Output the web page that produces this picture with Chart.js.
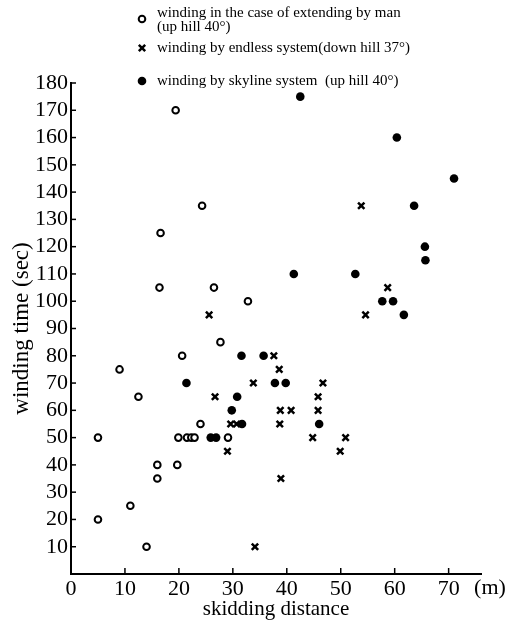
<!DOCTYPE html>
<html lang="en">
<head>
  <meta charset="UTF-8">
  <title>Winding time vs skidding distance</title>
  <script src="https://cdn.jsdelivr.net/npm/chart.js"></script>
  <style>
    body { margin: 0; padding: 0; background: #fff; }
    canvas { display: block; }
  </style>
</head>
<body>
  <canvas id="windingChart" width="508" height="622"></canvas>
  <script>
    // winding in the case of extending by man (up hill 40°) - open circles
    const manX = [5, 5, 9, 11, 12.5, 14, 16, 16, 16.4, 16.6, 19.4, 19.7, 19.9, 20.6, 21.5, 22.3, 22.9, 24, 24.3, 26.5, 27.7, 29.1, 32.8];
    const manY = [50, 20, 75, 25, 65, 10, 40, 35, 105, 125, 170, 40, 50, 80, 50, 50, 50, 55, 135, 105, 85, 50, 100];

    // winding by endless system (down hill 37°) - crosses
    const endlessX = [25.6, 26.7, 29.0, 29.6, 30.7, 33.8, 34.1, 37.6, 38.6, 38.7, 38.8, 38.9, 40.8, 44.8, 45.8, 45.8, 46.7, 49.9, 50.9, 53.8, 54.6, 58.7];
    const endlessY = [95, 65, 45, 55, 55, 70, 10, 80, 75, 55, 60, 35, 60, 50, 65, 60, 70, 45, 50, 135, 95, 105];

    // winding by skyline system (up hill 40°) - filled circles
    const skylineX = [21.4, 25.9, 26.9, 29.8, 30.8, 31.6, 31.7, 35.7, 37.8, 39.8, 41.3, 42.5, 46, 52.7, 57.7, 59.7, 60.4, 61.7, 63.6, 65.6, 65.7, 71];
    const skylineY = [70, 50, 50, 60, 65, 80, 55, 80, 70, 70, 110, 175, 55, 110, 100, 100, 160, 95, 135, 120, 115, 145];

    const xTicks = [0, 10, 20, 30, 40, 50, 60, 70];

    const legendLabels = [
      ['winding in the case of extending by man', '(up hill 40°)'],
      ['winding by endless system(down hill 37°)'],
      ['winding by skyline system  (up hill 40°)']
    ];
    const xTitle = 'skidding distance';
    const yTitle = 'winding time (sec)';
    const xUnit = '(m)';

    const toPoints = (xs, ys) => xs.map((x, i) => ({ x: x, y: ys[i] }));
    const serif = "'Liberation Serif', 'DejaVu Serif', serif";

    // small inward tick marks, the "(m)" unit and the legend at the top
    const decorations = {
      id: 'decorations',
      afterDraw(chart) {
        const ctx = chart.ctx;
        const xs = chart.scales.x;
        const ys = chart.scales.y;
        const area = chart.chartArea;
        ctx.save();
        ctx.strokeStyle = '#000';
        ctx.lineWidth = 1.5;
        xs.ticks.forEach(t => {
          if (t.value === 0) return;
          const px = xs.getPixelForValue(t.value);
          ctx.beginPath();
          ctx.moveTo(px, area.bottom);
          ctx.lineTo(px, area.bottom - 6);
          ctx.stroke();
        });
        ys.ticks.forEach(t => {
          if (t.value === 0) return;
          const py = ys.getPixelForValue(t.value);
          ctx.beginPath();
          ctx.moveTo(area.left, py);
          ctx.lineTo(area.left + 5, py);
          ctx.stroke();
        });

        ctx.fillStyle = '#000';
        ctx.font = '22px ' + serif;
        ctx.textAlign = 'center';
        ctx.textBaseline = 'top';
        ctx.fillText(xUnit, 490, area.bottom + 3);

        // legend
        const rows = [[19, 13], [48, 48], [81, 81]];
        ctx.font = '15px ' + serif;
        ctx.textAlign = 'left';
        ctx.textBaseline = 'middle';
        chart.data.datasets.forEach((ds, i) => {
          const my = rows[i][0];
          ctx.save();
          ctx.strokeStyle = '#000';
          ctx.fillStyle = ds.pointBackgroundColor;
          ctx.lineWidth = ds.pointBorderWidth;
          Chart.helpers.drawPoint(ctx, {
            pointStyle: ds.pointStyle,
            radius: ds.pointRadius,
            rotation: 0,
            borderWidth: ds.pointBorderWidth
          }, 142, my);
          ctx.restore();
          ctx.fillStyle = '#000';
          legendLabels[i].forEach((line, j) => {
            ctx.fillText(line, 157, rows[i][1] + j * 14);
          });
        });
        ctx.restore();
      }
    };

    const ctx = document.getElementById('windingChart').getContext('2d');
    new Chart(ctx, {
      type: 'scatter',
      data: {
        datasets: [
          {
            label: legendLabels[0].join(' '),
            data: toPoints(manX, manY),
            pointStyle: 'circle',
            pointRadius: 3.3,
            pointBorderWidth: 2,
            pointBorderColor: '#000',
            pointBackgroundColor: '#fff'
          },
          {
            label: legendLabels[1].join(' '),
            data: toPoints(endlessX, endlessY),
            pointStyle: 'crossRot',
            pointRadius: 4.5,
            pointBorderWidth: 2.5,
            pointBorderColor: '#000',
            pointBackgroundColor: '#000'
          },
          {
            label: legendLabels[2].join(' '),
            data: toPoints(skylineX, skylineY),
            pointStyle: 'circle',
            pointRadius: 4.3,
            pointBorderWidth: 0,
            pointBorderColor: '#000',
            pointBackgroundColor: '#000'
          }
        ]
      },
      options: {
        responsive: false,
        animation: false,
        devicePixelRatio: 1,
        layout: { padding: { top: 83, right: 27, left: 0, bottom: 0 } },
        plugins: {
          legend: { display: false },
          tooltip: { enabled: false }
        },
        scales: {
          x: {
            type: 'linear',
            min: 0,
            max: 76,
            afterBuildTicks: (scale) => {
              scale.ticks = xTicks.map(v => ({ value: v }));
            },
            afterFit: (scale) => { scale.height = 48; },
            grid: { display: true, drawOnChartArea: false, drawTicks: false },
            border: { display: true, color: '#000', width: 2 },
            ticks: {
              autoSkip: false,
              maxRotation: 0,
              color: '#000',
              padding: 2,
              font: { family: serif, size: 22 }
            },
            title: {
              display: true,
              text: xTitle,
              color: '#000',
              padding: 0,
              font: { family: serif, size: 21 }
            }
          },
          y: {
            type: 'linear',
            min: 0,
            max: 180,
            afterFit: (scale) => { scale.width = 71; },
            grid: { display: true, drawOnChartArea: false, drawTicks: false },
            border: { display: true, color: '#000', width: 2 },
            ticks: {
              stepSize: 10,
              autoSkip: false,
              color: '#000',
              padding: 3,
              font: { family: serif, size: 22 },
              callback: (v) => (v === 0 ? '' : v)
            },
            title: {
              display: true,
              text: yTitle,
              color: '#000',
              padding: { top: 8, bottom: 0 },
              font: { family: serif, size: 23 }
            }
          }
        }
      },
      plugins: [decorations]
    });
  </script>
</body>
</html>
